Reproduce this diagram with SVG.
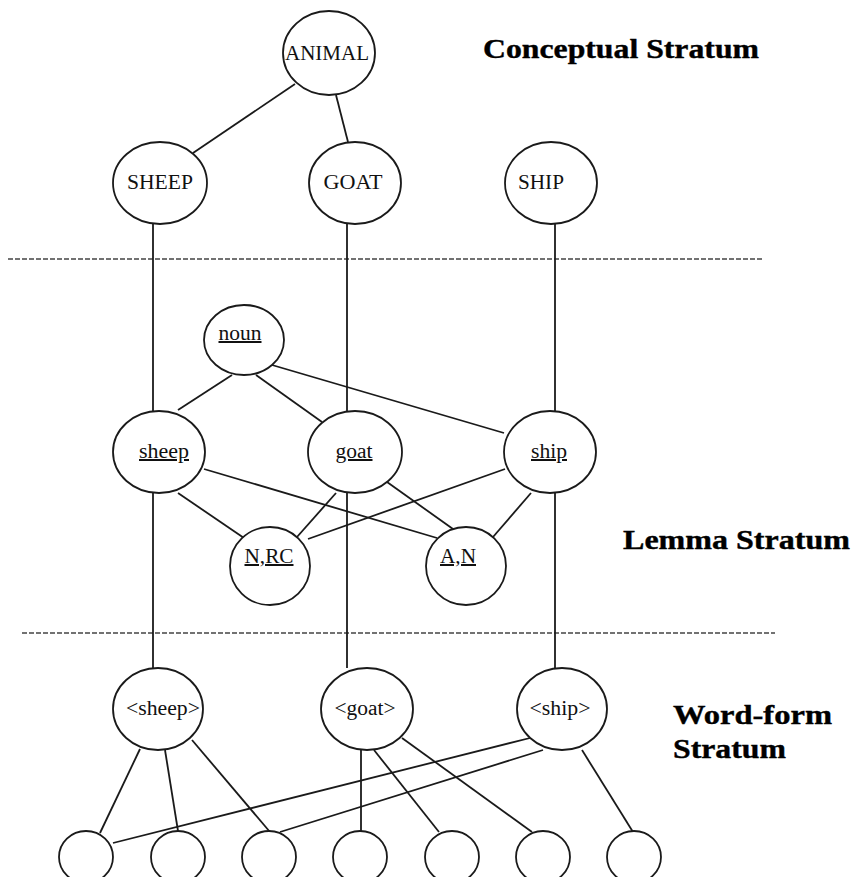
<svg xmlns="http://www.w3.org/2000/svg" width="853" height="877" viewBox="0 0 853 877">
<style>
  .node ellipse { fill: #fff; stroke: #1a1a1a; stroke-width: 1.8; }
  .lbl { font-family: "Liberation Serif", "Times New Roman", serif; font-size: 20px; fill: #111; text-anchor: middle; }
  .ul { text-decoration: underline; }
  .title { font-family: "Liberation Serif", "Times New Roman", serif; font-size: 28px; font-weight: bold; fill: #000; stroke: #000; stroke-width: 0.4; }
  .edge { stroke: #1a1a1a; stroke-width: 1.8; fill: none; }
  .dash { stroke: #444; stroke-width: 1.6; stroke-dasharray: 5 2; fill: none; }
</style>
<rect width="853" height="877" fill="#fff"/>

<g id="strata">
  <line class="dash" x1="8" y1="259" x2="762" y2="259"/>
  <line class="dash" x1="22" y1="633" x2="775" y2="633"/>
  <text class="title" x="483" y="58" textLength="276" lengthAdjust="spacingAndGlyphs">Conceptual Stratum</text>
  <text class="title" x="623" y="549" textLength="227" lengthAdjust="spacingAndGlyphs">Lemma Stratum</text>
  <text class="title" x="673" y="724" textLength="159" lengthAdjust="spacingAndGlyphs">Word-form</text>
  <text class="title" x="673" y="758" textLength="113" lengthAdjust="spacingAndGlyphs">Stratum</text>
</g>

<g id="connectors">
  <line class="edge" x1="295" y1="84" x2="193" y2="153"/>
  <line class="edge" x1="336" y1="95" x2="348" y2="142"/>
  <line class="edge" x1="153" y1="224" x2="153" y2="411"/>
  <line class="edge" x1="347" y1="224" x2="347" y2="411"/>
  <line class="edge" x1="555" y1="224" x2="555" y2="411"/>
  <line class="edge" x1="153" y1="493" x2="153" y2="668"/>
  <line class="edge" x1="347" y1="493" x2="347" y2="668"/>
  <line class="edge" x1="555" y1="493" x2="555" y2="668"/>
  <line class="edge" x1="232" y1="375" x2="178" y2="410"/>
  <line class="edge" x1="256" y1="375" x2="322" y2="422"/>
  <line class="edge" x1="272" y1="365" x2="504" y2="433"/>
  <line class="edge" x1="204" y1="469" x2="437" y2="538"/>
  <line class="edge" x1="178" y1="493" x2="244" y2="538"/>
  <line class="edge" x1="336" y1="493" x2="297" y2="537"/>
  <line class="edge" x1="387" y1="482" x2="453" y2="529"/>
  <line class="edge" x1="505" y1="469" x2="308" y2="539"/>
  <line class="edge" x1="531" y1="493" x2="493" y2="537"/>
  <line class="edge" x1="140" y1="749" x2="100" y2="833"/>
  <line class="edge" x1="165" y1="750" x2="178" y2="831"/>
  <line class="edge" x1="192" y1="740" x2="270" y2="832"/>
  <line class="edge" x1="361" y1="750" x2="361" y2="831"/>
  <line class="edge" x1="374" y1="750" x2="439" y2="832"/>
  <line class="edge" x1="402" y1="738" x2="532" y2="832"/>
  <line class="edge" x1="530" y1="738" x2="113" y2="843"/>
  <line class="edge" x1="543" y1="750" x2="280" y2="832"/>
  <line class="edge" x1="582" y1="750" x2="633" y2="832"/>
</g>

<g id="n-animal" class="node"><ellipse cx="329" cy="53" rx="46" ry="42"/><text class="lbl" x="327" y="60" textLength="84" lengthAdjust="spacingAndGlyphs">ANIMAL</text></g>
<g id="n-SHEEP" class="node"><ellipse cx="160" cy="183" rx="47" ry="41"/><text class="lbl" x="160" y="189" textLength="66" lengthAdjust="spacingAndGlyphs">SHEEP</text></g>
<g id="n-GOAT" class="node"><ellipse cx="355" cy="183" rx="46" ry="41"/><text class="lbl" x="353" y="189" textLength="59" lengthAdjust="spacingAndGlyphs">GOAT</text></g>
<g id="n-SHIP" class="node"><ellipse cx="551" cy="183" rx="46" ry="41"/><text class="lbl" x="541" y="189" textLength="46" lengthAdjust="spacingAndGlyphs">SHIP</text></g>

<g id="n-noun" class="node"><ellipse cx="244" cy="340" rx="40" ry="35"/><text class="lbl ul" x="240" y="340" textLength="43" lengthAdjust="spacingAndGlyphs">noun</text></g>
<g id="n-sheep" class="node"><ellipse cx="159" cy="452" rx="46" ry="41"/><text class="lbl ul" x="164" y="458" textLength="50" lengthAdjust="spacingAndGlyphs">sheep</text></g>
<g id="n-goat" class="node"><ellipse cx="355" cy="452" rx="47" ry="41"/><text class="lbl ul" x="354" y="458" textLength="37" lengthAdjust="spacingAndGlyphs">goat</text></g>
<g id="n-ship" class="node"><ellipse cx="550" cy="452" rx="46" ry="41"/><text class="lbl ul" x="549" y="458" textLength="36" lengthAdjust="spacingAndGlyphs">ship</text></g>
<g id="n-nrc" class="node"><ellipse cx="270" cy="566" rx="40" ry="39"/><text class="lbl ul" x="269" y="563" textLength="49" lengthAdjust="spacingAndGlyphs">N,RC</text></g>
<g id="n-an" class="node"><ellipse cx="466" cy="566" rx="40" ry="39"/><text class="lbl ul" x="458" y="563" textLength="36" lengthAdjust="spacingAndGlyphs">A,N</text></g>

<g id="w-sheep" class="node"><ellipse cx="158" cy="709" rx="45" ry="41"/><text class="lbl" x="163" y="715" textLength="74" lengthAdjust="spacingAndGlyphs">&lt;sheep&gt;</text></g>
<g id="w-goat" class="node"><ellipse cx="367" cy="709" rx="46" ry="41"/><text class="lbl" x="365" y="715" textLength="61" lengthAdjust="spacingAndGlyphs">&lt;goat&gt;</text></g>
<g id="w-ship" class="node"><ellipse cx="562" cy="709" rx="45" ry="41"/><text class="lbl" x="560" y="715" textLength="61" lengthAdjust="spacingAndGlyphs">&lt;ship&gt;</text></g>

<g id="f1" class="node"><ellipse cx="86" cy="857" rx="27" ry="26"/></g>
<g id="f2" class="node"><ellipse cx="178" cy="857" rx="27" ry="26"/></g>
<g id="f3" class="node"><ellipse cx="269" cy="857" rx="27" ry="26"/></g>
<g id="f4" class="node"><ellipse cx="360" cy="857" rx="27" ry="26"/></g>
<g id="f5" class="node"><ellipse cx="452" cy="857" rx="27" ry="26"/></g>
<g id="f6" class="node"><ellipse cx="543" cy="857" rx="27" ry="26"/></g>
<g id="f7" class="node"><ellipse cx="634" cy="857" rx="27" ry="26"/></g>
</svg>
